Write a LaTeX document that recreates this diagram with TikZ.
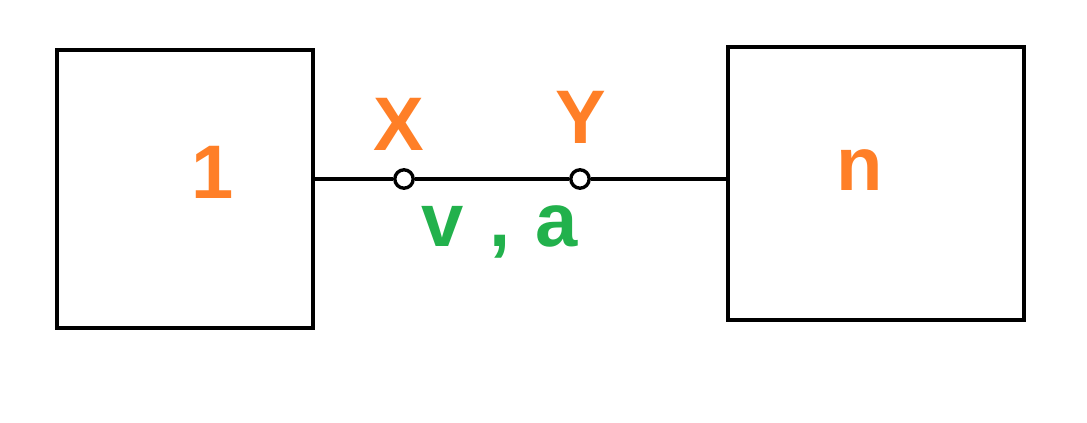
\documentclass[tikz,border=0pt]{standalone}
\usepackage{fontspec}
\setmainfont{Liberation Sans}
\usetikzlibrary{positioning}

\definecolor{paintorange}{RGB}{255,127,39}
\definecolor{paintgreen}{RGB}{34,177,76}

\begin{document}
\begin{tikzpicture}[x = 0.025cm, y = -0.025cm, % pixel units
                line width = 2.7pt, % thick hand drawn lines
                node distance = 7mm
            ]

            \tikzset{block/.style = {draw = black, rectangle, inner sep = 0pt},
            port/.style = {draw = black, circle, fill = white, line width =
            2.4pt, inner sep = 0pt, minimum size = 0.46cm},
            tag/.style = {text = paintorange, inner sep = 0pt,
            font = \fontsize{54}{58}\selectfont\bfseries},
            note/.style = {text = paintgreen, inner sep = 0pt,
            font = \fontsize{54}{58}\selectfont\bfseries}}

            \useasboundingbox (0,0) rectangle (1087,422);

            \node (one) [block, minimum width = 6.4cm, minimum height = 6.95cm]
            at (185,189) {}; \node (many) [block, minimum width = 7.4cm,
            minimum height = 6.83cm] at (876,183.5) {};

            \node (px) [port] at (404,179) {}; \node (py) [port] at (580,179)
            {};

            \node (lone) [tag] at (213,172) {1}; \node (lmany) [tag] at
            (860,170) {n}; \node (lx) [tag] at (399,124) {X}; \node (ly) [tag]
            at (581,117) {Y}; \node (lva) [note] at (500,232) {v\,\,,\,\,a};

            \draw (one.east |- px) -- (px); \draw (px) -- (py); \draw (py) --
            (many.west |- py); \end{tikzpicture}
\end{document}
